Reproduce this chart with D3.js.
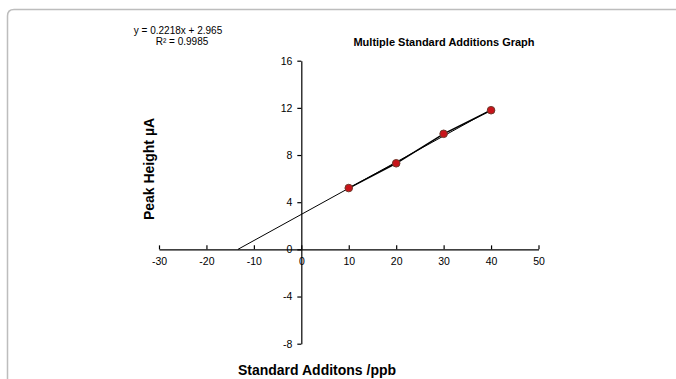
<!DOCTYPE html>
<html>
<head>
<meta charset="utf-8">
<script src="https://cdn.jsdelivr.net/npm/d3@7.9.0/dist/d3.min.js"></script>
<style>
  body { margin: 0; background: #fff; }
  svg { font-family: "Liberation Sans", Arial, sans-serif; }
</style>
</head>
<body>
<svg id="chart" width="676" height="379"></svg>
<script>
// data
const additions = [10, 20, 30, 40];
const peakHeights = [5.2, 7.3, 9.8, 11.8];
const xTicks = [-30, -20, -10, 0, 10, 20, 30, 40, 50];
const yTicks = [-8, -4, 0, 4, 8, 12, 16];
const slope = 0.2218;
const intercept = 2.965;

const svg = d3.select('#chart');

// frame round the chart area
svg.append('path')
  .attr('d', 'M7.5,379 L7.5,16 Q7.5,9.5 14,9.5 L676,9.5')
  .attr('fill', 'none')
  .attr('stroke', '#bdbdbd')
  .attr('stroke-width', 1.5);

const x = d3.scaleLinear().domain([-30, 50]).range([159, 538.5]);
const y = d3.scaleLinear().domain([-8, 16]).range([343.7, 60.7]);

// plain hyphen for negatives, like the original
const fmt = d => String(d);

// x axis through y = 0, ticks pointing up
const xAxis = svg.append('g')
  .attr('transform', `translate(0,${y(0)})`)
  .call(d3.axisTop(x).tickValues(xTicks).tickSize(4).tickSizeOuter(0).tickFormat(fmt));
xAxis.selectAll('text').attr('y', 16).attr('dy', 0).style('font-size', '10.5px').attr('fill', '#000');

// y axis through x = 0
const yAxis = svg.append('g')
  .attr('transform', `translate(${x(0)},0)`)
  .call(d3.axisLeft(y).tickValues(yTicks).tickSize(4).tickSizeOuter(0).tickFormat(fmt));
yAxis.selectAll('text').attr('x', -9).style('font-size', '10.5px').attr('fill', '#000');

svg.selectAll('.domain, .tick line').attr('stroke', '#000').attr('stroke-width', 1.2);

// trendline from the x intercept to the last point
const x0 = -intercept / slope;
svg.append('line')
  .attr('x1', x(x0)).attr('y1', y(0))
  .attr('x2', x(40)).attr('y2', y(slope * 40 + intercept))
  .attr('stroke', '#000').attr('stroke-width', 1);

// data line
const pts = additions.map((a, i) => [a, peakHeights[i]]);
svg.append('path')
  .attr('d', d3.line().x(d => x(d[0])).y(d => y(d[1]))(pts))
  .attr('fill', 'none').attr('stroke', '#000').attr('stroke-width', 1.5);

svg.selectAll('circle.pt').data(pts).join('circle')
  .attr('class', 'pt')
  .attr('cx', d => x(d[0])).attr('cy', d => y(d[1]))
  .attr('r', 3.8)
  .attr('fill', '#c8141a')
  .attr('stroke', '#6e3a2c').attr('stroke-width', 1);

// equation box
svg.append('text').attr('x', 178).attr('y', 34).attr('text-anchor', 'middle')
  .style('font-size', '10px').text('y = 0.2218x + 2.965');
svg.append('text').attr('x', 182).attr('y', 45).attr('text-anchor', 'middle')
  .style('font-size', '10px').text('R² = 0.9985');

// titles
svg.append('text').attr('x', 444).attr('y', 46).attr('text-anchor', 'middle')
  .style('font-size', '11px').style('font-weight', 'bold').text('Multiple Standard Additions Graph');

svg.append('text').attr('transform', 'translate(154,169) rotate(-90)').attr('text-anchor', 'middle')
  .style('font-size', '14px').style('font-weight', 'bold').text('Peak Height µA');

svg.append('text').attr('x', 317).attr('y', 375).attr('text-anchor', 'middle')
  .style('font-size', '14px').style('font-weight', 'bold').text('Standard Additons /ppb');
</script>
</body>
</html>
